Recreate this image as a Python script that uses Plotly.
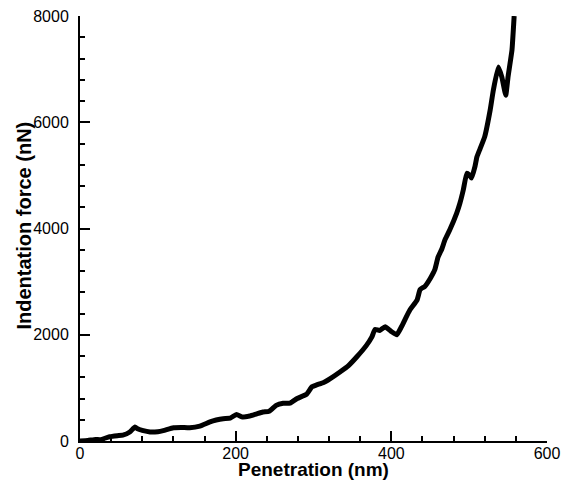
import plotly.graph_objects as go

penetration_nm = [0, 10, 20, 26, 38, 48, 55, 64, 70.7, 74, 80, 90, 100, 107, 120, 130, 141,
                  154, 167, 175, 184, 193, 201, 209, 218, 227, 235, 243, 252, 261, 270, 279,
                  291, 298, 304, 313, 321, 334, 345, 356, 368, 375, 379, 385, 392, 400, 407,
                  413, 418, 424, 433, 437, 443, 450, 456, 460, 465, 469, 475, 484, 488, 492.5,
                  497, 500, 503, 507.5, 510, 514, 520, 527, 531, 537.5, 542, 547, 550, 555,
                  557, 557.8]
force_nN = [0, 10, 30, 25, 80, 100, 110, 170, 265, 230, 200, 170, 175, 195, 250, 255, 250,
            280, 360, 395, 420, 430, 500, 450, 470, 510, 545, 560, 670, 710, 715, 800,
            880, 1020, 1055, 1100, 1170, 1300, 1420, 1590, 1800, 1960, 2100, 2080, 2150, 2060, 2000,
            2150, 2300, 2470, 2650, 2850, 2910, 3060, 3230, 3460, 3620, 3790, 3970, 4290, 4470, 4730,
            5040, 5010, 4950, 5170, 5350, 5500, 5730, 6230, 6600, 7040, 6850, 6510, 6860, 7360,
            7800, 8000]

x_ticks = [0, 200, 400, 600]
y_ticks = [0, 2000, 4000, 6000, 8000]
x_title = "Penetration (nm)"
y_title = "Indentation force (nN)"

FONT = "Liberation Sans, Arial, Helvetica, sans-serif"

fig = go.Figure()
fig.add_trace(go.Scatter(
    x=penetration_nm, y=force_nN, mode="lines",
    line=dict(color="black", width=5, shape="spline", smoothing=0.4),
    showlegend=False, hoverinfo="x+y",
))

axis_common = dict(
    showline=True, linecolor="black", linewidth=2,
    ticks="inside", ticklen=10, tickwidth=2, tickcolor="black",
    showgrid=False, zeroline=False, mirror=False, automargin=False,
    tickfont=dict(family=FONT, size=16, color="black"),
)

fig.update_layout(
    width=564, height=485,
    margin=dict(l=80, r=17, t=16, b=44, pad=0),
    paper_bgcolor="white", plot_bgcolor="white",
    xaxis=dict(
        range=[0, 600], tickvals=x_ticks, ticktext=[str(v) for v in x_ticks],
        minor=dict(ticks="inside", ticklen=5, tickwidth=1.5, tickcolor="black", dtick=40, tick0=0),
        ticklabelstandoff=-3,
        **axis_common,
    ),
    yaxis=dict(
        range=[0, 8000], tickvals=y_ticks, ticktext=[str(v) for v in y_ticks],
        minor=dict(ticks="inside", ticklen=5, tickwidth=1.5, tickcolor="black", dtick=400, tick0=0),
        ticklabelstandoff=6,
        **axis_common,
    ),
    annotations=[
        dict(text="<b>" + x_title + "</b>", xref="paper", yref="paper", x=0.5, y=0,
             xanchor="center", yanchor="middle", yshift=-28, showarrow=False,
             font=dict(family=FONT, size=19, color="black")),
        dict(text="<b>" + y_title + "</b>", xref="paper", yref="paper", x=0, y=0.5,
             xanchor="center", yanchor="middle", xshift=-57, yshift=3, textangle=-90,
             showarrow=False, font=dict(family=FONT, size=20, color="black")),
    ],
)

fig.write_html("out.html")
